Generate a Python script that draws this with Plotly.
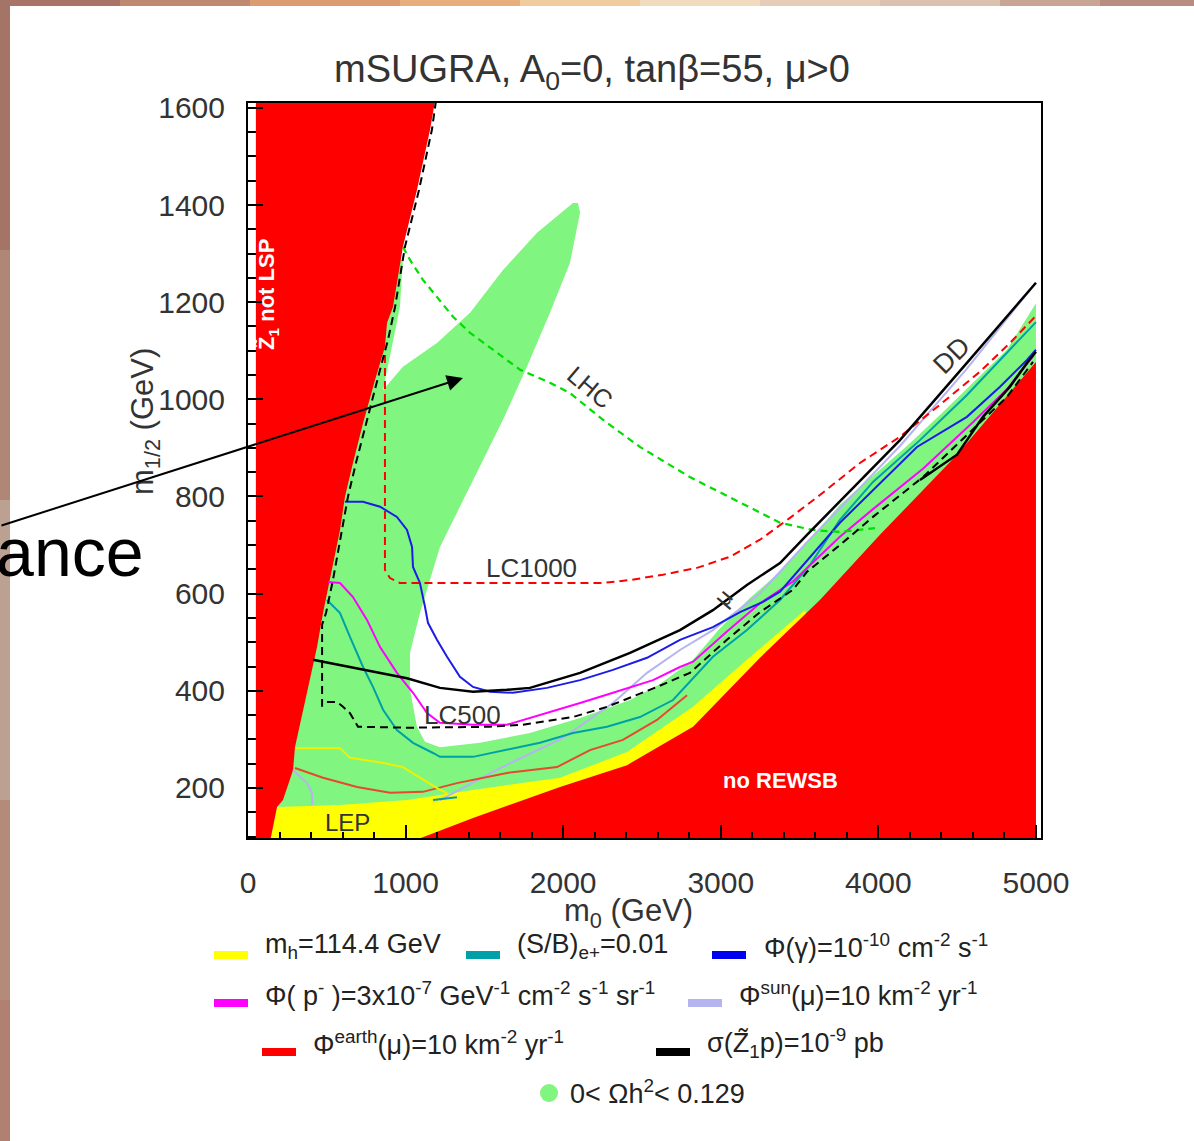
import plotly.graph_objects as go

# ---------------- DATA (m0, m1/2 in GeV) ----------------
title_text = "mSUGRA, A<sub>0</sub>=0, tanβ=55, μ>0"
x_tickvals = [0, 1000, 2000, 3000, 4000, 5000]
y_tickvals = [200, 400, 600, 800, 1000, 1200, 1400, 1600]

# excluded / allowed regions
notlsp_m0 = [50, 1190, 1155, 1072, 983, 920, 882, 869, 806, 730, 666, 615, 584, 520, 476, 438, 393, 349, 298, 286, 222, 184, 140, 50]
notlsp_m12 = [1620, 1620, 1555, 1431, 1314, 1190, 1157, 1108, 1040, 951, 869, 799, 731, 628, 560, 490, 422, 354, 284, 237, 175, 161, 90, 90]

lep_m0 = [140, 184, 584, 1009, 1428, 1980, 2405, 2824, 3166, 3534, 3629, 2868]
lep_m12 = [90, 161, 165, 175, 196, 221, 274, 367, 464, 566, 484, 90]

norewsb_m0 = [1040, 1428, 1980, 2405, 2824, 3249, 3629, 4010, 4499, 5000, 5000]
norewsb_m12 = [90, 138, 202, 247, 326, 468, 587, 721, 886, 1077, 90]

relic_m0 = [5000, 4816, 4600, 4391, 4181, 3966, 3756, 3547, 3376, 3185, 2995, 2824, 2614, 2424, 2107, 1789, 1472, 1218,
            1123, 1072, 1028, 1028, 1091, 1218, 1428, 1618, 1770, 1916, 2043, 2107, 2094, 2062, 1834, 1618, 1409, 1199,
            983, 857, 913, 964, 983, 838, 76, 5000]
relic_m12 = [1198, 1102, 1034, 968, 904, 842, 783, 705, 645, 591, 529, 464, 414, 381, 344, 313, 293, 284,
             295, 326, 402, 478, 560, 696, 834, 958, 1067, 1178, 1281, 1384, 1404, 1404, 1343, 1266, 1178, 1116,
             1067, 1019, 1108, 1190, 1287, 1291, 90, 90]

# reach / detection contours
lc500_m0 = [1193, 1167, 1085, 996, 933, 888, 838, 749, 685, 634, 596, 539, 495, 470, 470, None,
            501, 565, 603, 647, 698, 1009, 1535, 1745, 2062, 2278, 2595, 2804, 3039, 3249, 3458, 3547, 3756, 3966,
            4283, 4600, 4816, 4981]
lc500_m12 = [1615, 1555, 1431, 1314, 1190, 1122, 1061, 951, 869, 799, 731, 628, 560, 536, 367, None,
             377, 377, 367, 354, 326, 324, 326, 330, 346, 367, 408, 437, 505, 562, 608, 645, 700, 758,
             840, 937, 1005, 1077]

lc1000_m0 = [869, 869, 901, 945, 964, 2252, 2424, 2633, 2849, 3058, 3249, 3439, 3629, 3883, 4137, 4391, 4645, 4835, 5000]
lc1000_m12 = [1091, 649, 632, 624, 622, 622, 628, 639, 653, 676, 711, 756, 803, 869, 923, 989, 1057, 1116, 1172]

lhc_m0 = [983, 1028, 1110, 1199, 1301, 1409, 1618, 1726, 1916, 2043, 2252, 2487, 2804, 3122, 3376, 3585, 3756, 3978]
lhc_m12 = [1314, 1287, 1246, 1211, 1170, 1137, 1087, 1061, 1034, 1013, 958, 902, 840, 787, 746, 731, 727, 735]

dd_m0 = [412, 584, 793, 1009, 1218, 1428, 1643, 1789, 2107, 2424, 2741, 2950, 3166, 3376, 3547, 3966, 4137, 4562, 5000,
         None, 4264, 4499, 4664, 4835, 4943, 5000]
dd_m12 = [464, 453, 439, 426, 406, 398, 402, 406, 437, 478, 525, 566, 618, 663, 721, 859, 916, 1075, 1240,
          None, 834, 886, 964, 1026, 1075, 1098]

gamma_m0 = [615, 730, 838, 945, 1009, 1041, 1047, 1091, 1123, 1142, 1199, 1263, 1345, 1428, 1535, 1681, 1897, 2107,
            2316, 2532, 2741, 2950, 3122, 3268, 3376, 3756, 4245, 4562, 4772, 4943, 5000]
gamma_m12 = [789, 789, 779, 758, 731, 696, 655, 622, 573, 540, 505, 470, 429, 408, 398, 396, 406, 422,
             443, 468, 505, 531, 562, 583, 604, 746, 902, 964, 1026, 1081, 1102]

pbar_m0 = [508, 584, 666, 755, 838, 945, 1047, 1136, 1218, 1428, 1643, 1897, 2107, 2316, 2570, 2741, 2824, 3039,
           3249, 3458, 3756, 3966, 4283, 4600, 4816, 4981]
pbar_m12 = [624, 622, 593, 546, 490, 437, 396, 354, 334, 330, 330, 354, 375, 396, 422, 449, 460, 522,
            580, 625, 717, 774, 857, 953, 1021, 1089]

positron_m0 = [501, 584, 647, 730, 793, 857, 945, 1047, 1174, 1218, 1428, 1643, 1853, 2062, 2278, 2487, 2697, 2950,
               3166, 3376, 3566, 3756, 3966, 4264, 4562, 4772, 5000, None, 1174, 1326]
positron_m12 = [587, 560, 511, 449, 408, 361, 319, 293, 272, 264, 264, 278, 293, 313, 326, 346, 381, 470,
                525, 587, 659, 752, 830, 916, 1009, 1081, 1159, None, 175, 181]

sun_m0 = [1218, 1599, 1999, 2316, 2532, 2741, 2950, 3249, 3376, 3547, 3966, 4137, 4562, 4962,
          None, 286, 330, 374, 406, 406]
sun_m12 = [175, 241, 303, 375, 437, 484, 525, 601, 645, 706, 846, 904, 1063, 1225,
           None, 237, 223, 210, 190, 165]

earth_m0 = [298, 476, 692, 901, 1110, 1326, 1643, 1961, 2170, 2379, 2595, 2786]
earth_m12 = [241, 221, 202, 190, 192, 210, 231, 243, 278, 299, 340, 391]

higgs_m0 = [298, 584, 647, 869, 983, 1091, 1218, 1263, 1174]
higgs_m12 = [282, 282, 262, 251, 243, 221, 196, 190, 169]

# in-plot labels
lab_text = ["Z̃<sub>1</sub> not LSP", "LHC", "DD", "LC1000", "LC500", "LEP", "no REWSB", "μ"]
lab_m0 = [127, 2170, 4467, 1802, 1358, 634, 3376, 3014]
lab_m12 = [1215, 1025, 1091, 653, 350, 128, 216, 593]
lab_angle = [-90, 40, -45, 0, 0, 0, 0, -50]

# legend
legend_labels = [
    "m<sub>h</sub>=114.4 GeV",
    "(S/B)<sub>e+</sub>=0.01",
    "Φ(γ)=10<sup>-10</sup> cm<sup>-2</sup> s<sup>-1</sup>",
    "Φ( p<sup>-</sup> )=3x10<sup>-7</sup> GeV<sup>-1</sup> cm<sup>-2</sup> s<sup>-1</sup> sr<sup>-1</sup>",
    "Φ<sup>sun</sup>(μ)=10 km<sup>-2</sup> yr<sup>-1</sup>",
    "Φ<sup>earth</sup>(μ)=10 km<sup>-2</sup> yr<sup>-1</sup>",
    "σ(Z̃<sub>1</sub>p)=10<sup>-9</sup> pb",
    "0< Ωh<sup>2</sup>< 0.129",
]

# ---------------- STYLE ----------------
RED = "#ff0000"
GREEN = "#80f580"
YELLOW = "#ffff00"
C_BLUE = "#1c1ce8"
C_CYAN = "#00a0a8"
C_MAG = "#ff00ff"
C_LB = "#b4b4f0"
C_EARTH = "#e8482c"
C_YEL = "#f0f000"
TXT = "#333333"
FONT = "Liberation Sans, Arial, sans-serif"

W, H = 1194, 1141
L, R, T, B = 248, 1041, 103, 838


def pxx(x):
    return (x - L) / (R - L)


def pxy(y):
    return (B - y) / (B - T)


fig = go.Figure()


def add_fill(x, y, color):
    fig.add_trace(go.Scatter(x=x, y=y, mode="lines", fill="toself", fillcolor=color,
                             line=dict(width=0, color=color), hoverinfo="skip", showlegend=False))


def add_line(x, y, color, width=2, dash="solid"):
    fig.add_trace(go.Scatter(x=x, y=y, mode="lines", line=dict(color=color, width=width, dash=dash),
                             connectgaps=False, hoverinfo="skip", showlegend=False))


add_fill(relic_m0, relic_m12, GREEN)
add_fill(lep_m0, lep_m12, YELLOW)
add_fill(notlsp_m0, notlsp_m12, RED)
add_fill(norewsb_m0, norewsb_m12, RED)

add_line(sun_m0, sun_m12, C_LB, 2)
add_line(earth_m0, earth_m12, C_EARTH, 2)
add_line(higgs_m0, higgs_m12, C_YEL, 2)
add_line(positron_m0, positron_m12, C_CYAN, 2)
add_line(pbar_m0, pbar_m12, C_MAG, 2)
add_line(gamma_m0, gamma_m12, C_BLUE, 2)
add_line(lc1000_m0, lc1000_m12, RED, 2, "8px,5px")
add_line(lhc_m0, lhc_m12, "#00dd00", 2.2, "7px,5px")
add_line(lc500_m0, lc500_m12, "black", 2, "8px,5px")
add_line(dd_m0, dd_m12, "black", 2.5)

shapes = []
anns = []

# slide background edges
top_cols = [(0, "#a87468"), (120, "#c08a70"), (250, "#dc9c72"), (400, "#e8ae7e"), (520, "#f0cc9e"),
            (640, "#f2dcc0"), (760, "#e6cdb8"), (880, "#dcc0b0"), (1000, "#c9a596"), (1100, "#b88c80")]
for i, (x0, c) in enumerate(top_cols):
    x1 = top_cols[i + 1][0] if i + 1 < len(top_cols) else W
    shapes.append(dict(type="rect", xref="paper", yref="paper", x0=pxx(x0), x1=pxx(x1), y0=pxy(6), y1=pxy(0),
                       fillcolor=c, line=dict(width=0), layer="below"))
left_cols = [(0, "#a47466"), (250, "#b08676"), (500, "#bca092"), (800, "#b48a78"), (1000, "#b08070")]
for i, (y0, c) in enumerate(left_cols):
    y1 = left_cols[i + 1][0] if i + 1 < len(left_cols) else H
    shapes.append(dict(type="rect", xref="paper", yref="paper", x0=pxx(0), x1=pxx(10), y0=pxy(y1), y1=pxy(y0),
                       fillcolor=c, line=dict(width=0), layer="below"))

# title and axis titles
anns.append(dict(text=title_text, xref="paper", yref="paper", x=pxx(592), y=pxy(72), showarrow=False,
                 font=dict(size=38, color=TXT, family=FONT), xanchor="center", yanchor="middle"))
anns.append(dict(text="m<sub>0</sub> (GeV)", xref="paper", yref="paper", x=pxx(628), y=pxy(913), showarrow=False,
                 font=dict(size=31, color=TXT, family=FONT), xanchor="center", yanchor="middle"))
anns.append(dict(text="m<sub>1/2</sub> (GeV)", xref="paper", yref="paper", x=pxx(145), y=pxy(422), showarrow=False,
                 textangle=-90, font=dict(size=31, color=TXT, family=FONT), xanchor="center", yanchor="middle"))

# in-plot labels
lab_size = [22, 25, 27, 26, 26, 24, 22, 24]
for t, xm, ym, a, s in zip(lab_text, lab_m0, lab_m12, lab_angle, lab_size):
    white = t in ("no REWSB",) or t.startswith("Z̃")
    anns.append(dict(text=("<b>%s</b>" % t) if white else t, x=xm, y=ym, xref="x", yref="y", showarrow=False,
                     textangle=a, font=dict(size=s, color="white" if white else TXT, family=FONT),
                     xanchor="center", yanchor="middle"))

# slide text and arrow
anns.append(dict(text="resonance", xref="paper", yref="paper", x=pxx(146), y=pxy(552), showarrow=False,
                 xanchor="right", yanchor="middle", font=dict(size=68, color="black", family=FONT)))
anns.append(dict(text="", x=1364, y=1044, xref="x", yref="y", showarrow=True, ax=-472, ay=148,
                 arrowhead=2, arrowsize=1.6, arrowwidth=2, arrowcolor="black", standoff=0))

# legend (manual)
sw = [(214, 955, YELLOW), (466, 955, C_CYAN), (712, 955, "#0000f0"),
      (214, 1003, C_MAG), (688, 1003, C_LB),
      (262, 1052, RED), (656, 1052, "black")]
for (x0, yc, c) in sw:
    shapes.append(dict(type="rect", xref="paper", yref="paper", x0=pxx(x0), x1=pxx(x0 + 34),
                       y0=pxy(yc + 4), y1=pxy(yc - 4), fillcolor=c, line=dict(width=0)))
shapes.append(dict(type="circle", xref="paper", yref="paper", x0=pxx(540), x1=pxx(558), y0=pxy(1102), y1=pxy(1084),
                   fillcolor=GREEN, line=dict(width=0)))
leg_pos = [(263, 946), (515, 946), (762, 946), (263, 994), (737, 994), (311, 1043), (705, 1043), (568, 1092)]
for t, (xl, yc) in zip(legend_labels, leg_pos):
    anns.append(dict(text=t, xref="paper", yref="paper", x=pxx(xl), y=pxy(yc), showarrow=False,
                     xanchor="left", yanchor="middle", font=dict(size=27, color="#222222", family=FONT)))

fig.update_layout(
    width=W, height=H, margin=dict(l=L, r=W - R, t=T, b=H - B, pad=0),
    paper_bgcolor="white", plot_bgcolor="white", showlegend=False,
    shapes=shapes, annotations=anns,
    font=dict(family=FONT, color=TXT),
)
fig.update_xaxes(range=[0, 5032], tickvals=x_tickvals, ticks="inside", ticklen=13, tickwidth=2, tickcolor="black",
                 showline=True, linewidth=2, linecolor="black", mirror=True, showgrid=False, zeroline=False,
                 tickfont=dict(size=30, color=TXT, family=FONT), ticklabelstandoff=17,
                 minor=dict(dtick=200, tick0=0, ticks="inside", ticklen=6, tickwidth=2, tickcolor="black", showgrid=False))
fig.update_yaxes(range=[97, 1610], tickvals=y_tickvals, ticks="inside", ticklen=15, tickwidth=2, tickcolor="black",
                 showline=True, linewidth=2, linecolor="black", mirror=True, showgrid=False, zeroline=False,
                 tickfont=dict(size=30, color=TXT, family=FONT), ticklabelstandoff=15,
                 minor=dict(dtick=50, tick0=0, ticks="inside", ticklen=8, tickwidth=2, tickcolor="black", showgrid=False))

fig.write_html("out.html")
